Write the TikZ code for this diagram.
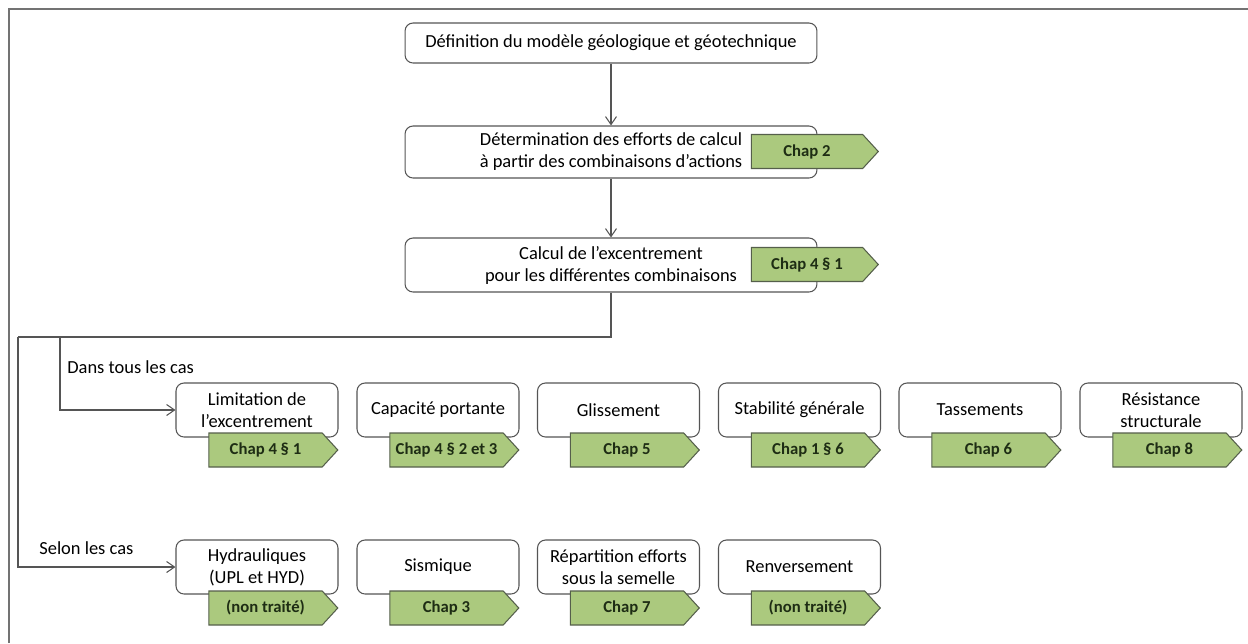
\documentclass[tikz,border=0pt]{standalone}
\usepackage{fontspec}
\setmainfont{Carlito}
\usepackage{tikz}
\usetikzlibrary{shapes.symbols,arrows.meta,positioning}
\definecolor{linecol}{RGB}{85,85,85}
\definecolor{framecol}{RGB}{115,115,115}
\definecolor{tagfill}{RGB}{171,201,126}
\definecolor{tagline}{RGB}{85,95,75}
\definecolor{tagtext}{RGB}{30,45,20}

\tikzset{
  stepbox/.style={rectangle,rounded corners=0.16cm,draw=linecol,line width=0.6pt,fill=white,align=center,inner sep=1pt,font=\fontsize{10.5}{12.5}\selectfont},
  topbox/.style={stepbox,minimum width=8.24cm},
  rowbox/.style={stepbox,minimum width=3.24cm,minimum height=1.08cm},
  chaptag/.style={signal,signal to=east,signal pointer angle=95,draw=tagline,line width=0.6pt,fill=tagfill,text=tagtext,inner sep=0pt,minimum height=0.68cm,font=\fontsize{9.5}{11}\selectfont\bfseries},
  toptag/.style={chaptag,minimum width=2.54cm},
  rowtag/.style={chaptag,minimum width=2.58cm},
  flow/.style={draw=linecol,line width=0.6pt},
  arr/.style={flow,-{Straight Barb[length=0.16cm,width=0.22cm]}},
  caselabel/.style={anchor=west,inner sep=0pt,font=\fontsize{10.5}{12.5}\selectfont}
}

\begin{document}
\begin{tikzpicture}[x=0.02cm,y=-0.02cm]
\useasboundingbox (0,0) rectangle (1248,643);
% frame
\draw[framecol,line width=1pt] (9,643) -- (9,9) -- (1248,9);

% main chain
\node[topbox,minimum height=0.8cm] (modele) at (611,43) {Définition du modèle géologique et géotechnique};
\node[topbox,minimum height=1.04cm] (efforts) at (611,152) {Détermination des efforts de calcul\\à partir des combinaisons d’actions};
\node[topbox,minimum height=1.08cm] (excent) at (611,265) {Calcul de l’excentrement\\pour les différentes combinaisons};
\node[toptag] (chapdeux) at (807,151.5) {Chap 2};
\node[toptag] (chapquatre) at (807,264.5) {Chap 4 § 1};

% labels
\node[caselabel] (tous) at (67,367) {Dans tous les cas};
\node[caselabel] (selon) at (39,548) {Selon les cas};

% first row
\node[rowbox] (limit) at (257,410) {Limitation de\\l’excentrement};
\node[rowbox] (portante) at (438,410) {Capacité portante};
\node[rowbox] (gliss) at (618.5,410) {Glissement};
\node[rowbox] (stab) at (799.5,410) {Stabilité générale};
\node[rowbox] (tass) at (980,410) {Tassements};
\node[rowbox] (resist) at (1161,410) {Résistance\\structurale};
\node[rowtag] (tlimit) at (265.5,450) {Chap 4 § 1};
\node[rowtag] (tportante) at (446.5,450) {Chap 4 § 2 et 3};
\node[rowtag] (tgliss) at (627,450) {Chap 5};
\node[rowtag] (tstab) at (808,450) {Chap 1 § 6};
\node[rowtag] (ttass) at (988.5,450) {Chap 6};
\node[rowtag] (tresist) at (1169.5,450) {Chap 8};

% second row
\node[rowbox] (hydro) at (257,567) {Hydrauliques\\(UPL et HYD)};
\node[rowbox] (sism) at (438,567) {Sismique};
\node[rowbox] (repart) at (618.5,567) {Répartition efforts\\sous la semelle};
\node[rowbox] (renv) at (799.5,567) {Renversement};
\node[rowtag] (thydro) at (265.5,608) {(non traité)};
\node[rowtag] (tsism) at (446.5,608) {Chap 3};
\node[rowtag] (trepart) at (627,608) {Chap 7};
\node[rowtag] (trenv) at (808,608) {(non traité)};

% connectors
\coordinate (farleft) at (18,337);
\coordinate (nearleft) at (60,337);
\draw[arr] (modele) -- (efforts);
\draw[arr] (efforts) -- (excent);
\draw[flow] (excent.south) |- (farleft);
\draw[arr] (farleft) |- (hydro.west);
\draw[arr] (nearleft) |- (limit.west);

\end{tikzpicture}
\end{document}
